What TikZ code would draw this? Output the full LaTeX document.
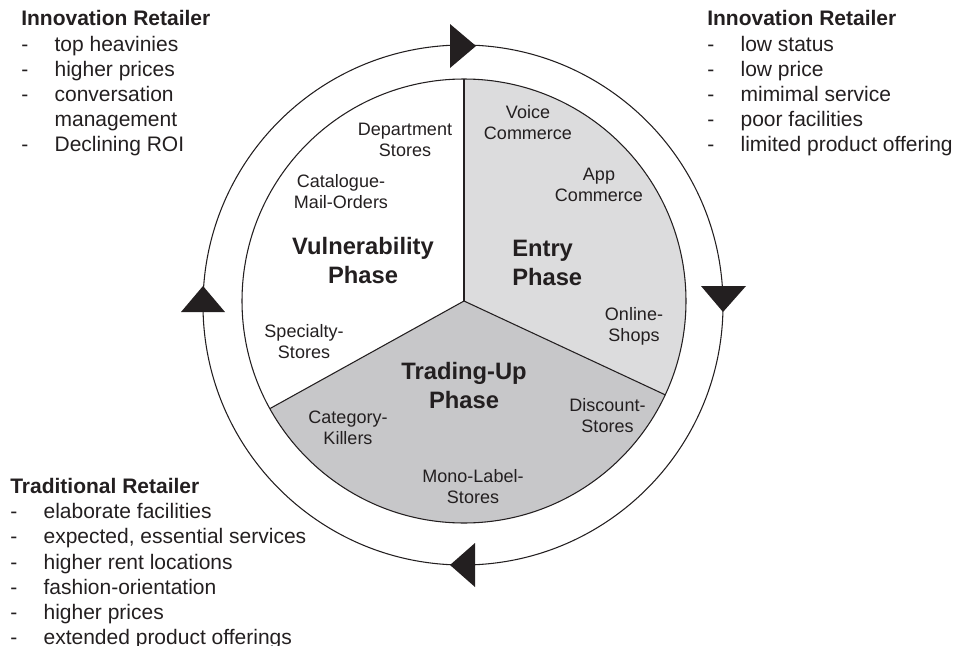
\documentclass[tikz,border=0pt]{standalone}
\usepackage{fontspec}
\setmainfont{Liberation Sans}

\definecolor{ink}{HTML}{231F20}
\definecolor{entrygray}{HTML}{DCDCDD}
\definecolor{tradinggray}{HTML}{C7C7C9}

\tikzset{
  storetype/.style={align=center,inner sep=0pt,
    font=\fontsize{13.5}{15.75}\selectfont},
  phasename/.style={align=center,inner sep=0pt,
    font=\fontsize{17.8}{21.4}\selectfont\bfseries},
  retailer/.style={anchor=north west,inner sep=0pt,
    font=\fontsize{15.75}{18.9}\selectfont},
  rim/.style={line width=0.8pt}
}

\begin{document}
\begin{tikzpicture}[x=0.75pt,y=0.75pt,color=ink]
        \useasboundingbox (0,0) rectangle (957,-646) ;
        % the three phases
        \coordinate (c) at (464,-301) ;
        \fill[entrygray] (c) -- ++(90:222)
          arc[start angle=90,end angle=-25,radius=222] -- cycle ;
        \fill[tradinggray] (c) -- ++(-25:222)
          arc[start angle=-25,end angle=-151,radius=222] -- cycle ;
        \draw[rim] (c) circle[radius=222] ;
        \draw[rim] (c) -- ++(90:222) ;
        \draw[rim] (c) -- ++(-25:222) ;
        \draw[rim] (c) -- ++(209:222) ;
        % outer cycle and its arrowheads
        \draw[rim] (463,-305) circle[radius=260] ;
        \fill (450,-24) -- (476,-46) -- (450,-68) -- cycle ;
        \fill (701,-286) -- (746,-286) -- (723,-312) -- cycle ;
        \fill (475,-543) -- (475,-587) -- (450,-565) -- cycle ;
        \fill (181,-312) -- (225,-312) -- (203,-286) -- cycle ;
        % store types
        \node[storetype] (dept) at (405,-139.5) {Department\\Stores} ;
        \node[storetype] (voice) at (528,-122.5) {Voice\\Commerce} ;
        \node[storetype] (catalogue) at (341,-192) {Catalogue-\\Mail-Orders} ;
        \node[storetype] (app) at (599,-185) {App\\Commerce} ;
        \node[storetype] (online) at (634,-326) {Online-\\Shops} ;
        \node[storetype] (specialty) at (304,-341.5) {Specialty-\\Stores} ;
        \node[storetype] (discount) at (607.5,-416) {Discount-\\Stores} ;
        \node[storetype] (category) at (348,-428) {Category-\\Killers} ;
        \node[storetype] (monolabel) at (473,-487) {Mono-Label-\\Stores} ;
        % phase names
        \node[phasename] (vulnerability) at (363,-260.5) {Vulnerability\\Phase} ;
        \node[phasename,align=left,anchor=west] (entry) at (512,-263) {Entry\\Phase} ;
        \node[phasename] (tradingup) at (464,-385.5) {Trading-Up\\Phase} ;
        % retailer profiles
        \node[retailer] (innovleft) at (21,-8) {%
          \begin{tabular}{@{}p{25pt}@{}l@{}}
            \multicolumn{2}{@{}l@{}}{\bfseries Innovation Retailer}\\
            - & top heavinies\\
            - & higher prices\\
            - & conversation\\
              & management\\
            - & Declining ROI
          \end{tabular}} ;
        \node[retailer] (innovright) at (707,-8) {%
          \begin{tabular}{@{}p{25pt}@{}l@{}}
            \multicolumn{2}{@{}l@{}}{\bfseries Innovation Retailer}\\
            - & low status\\
            - & low price\\
            - & mimimal service\\
            - & poor facilities\\
            - & limited product offering
          \end{tabular}} ;
        \node[retailer] (traditional) at (10,-475.5) {%
          \begin{tabular}{@{}p{25pt}@{}l@{}}
            \multicolumn{2}{@{}l@{}}{\bfseries Traditional Retailer}\\
            - & elaborate facilities\\
            - & expected, essential services\\
            - & higher rent locations\\
            - & fashion-orientation\\
            - & higher prices\\
            - & extended product offerings
          \end{tabular}} ;
\end{tikzpicture}
\end{document}
